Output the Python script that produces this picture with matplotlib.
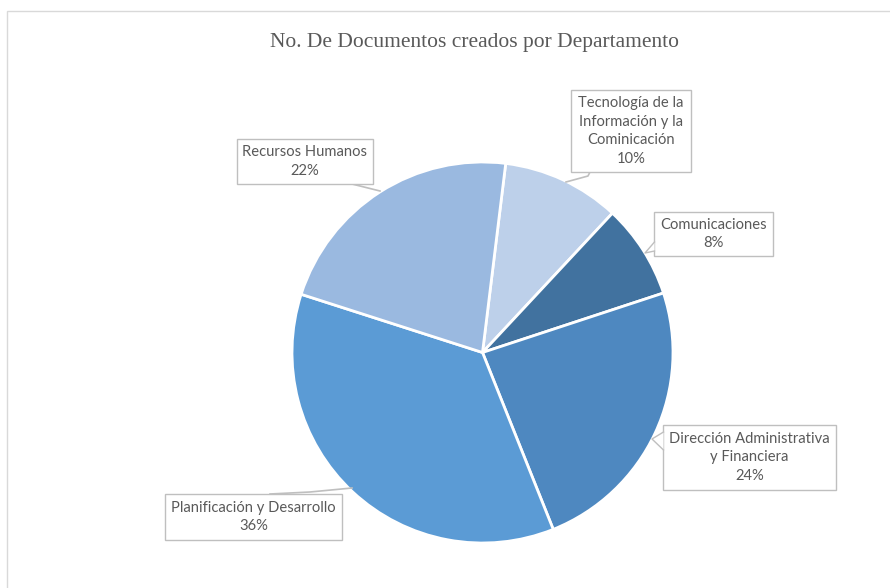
import numpy as np
import matplotlib.pyplot as plt
from matplotlib.patches import Rectangle, Polygon

# data, in the order the slices go clockwise from the top
departments = ['Tecnología de la\nInformación y la\nCominicación', 'Comunicaciones',
               'Dirección Administrativa\ny Financiera', 'Planificación y Desarrollo',
               'Recursos Humanos']
percent = [10, 8, 24, 36, 22]
colors = ['#BDD0EA', '#41729F', '#4E88C0', '#5B9BD5', '#9AB9E0']

W, H = 890, 588
gray_txt = '#595959'
gray_line = '#BFBFBF'

fig = plt.figure(figsize=(W / 100, H / 100), dpi=100)
ax = fig.add_axes([0, 0, 1, 1])
ax.set_xlim(0, W)
ax.set_ylim(0, H)
ax.axis('off')


def Y(y):
    # screen y (from top) -> axes y
    return H - y


# chart area border
ax.add_patch(Rectangle((7, Y(600)), 900, 589, fill=False, ec='#D9D9D9', lw=1))

ax.text(474, Y(42), 'No. De Documentos creados por Departamento', ha='center', va='center',
        family='Liberation Serif', fontsize=15.5, color=gray_txt)

ax.pie(percent, colors=colors, startangle=83, counterclock=False,
       center=(482.5, Y(352.5)), radius=190.5,
       wedgeprops=dict(edgecolor='white', linewidth=2))
ax.set_xlim(0, W)
ax.set_ylim(0, H)
ax.set_aspect('auto')

# label boxes: (x0, y0, x1, y1) in screen pixels
boxes = [(571, 90, 691, 172), (654, 212, 773, 256), (663, 425, 836, 490),
         (165, 494, 342, 540), (237, 139, 373, 184)]

for (x0, y0, x1, y1), name, p in zip(boxes, departments, percent):
    ax.add_patch(Rectangle((x0, Y(y1)), x1 - x0, y1 - y0, fc='white', ec=gray_line, lw=1, zorder=3))
    ax.text((x0 + x1) / 2, Y((y0 + y1) / 2), f'{name}\n{p}%', ha='center', va='center',
            family='Lato', fontsize=10.6, color=gray_txt, linespacing=1.45, zorder=4)

# leader lines
leaders = [
    [(590, 172), (588, 176), (566, 182)],
    [(352, 184), (380, 191)],
    [(270, 494), (310, 492), (352, 488)],
]
for pts in leaders:
    xs = [p[0] for p in pts]
    ys = [Y(p[1]) for p in pts]
    ax.plot(xs, ys, color=gray_line, lw=1.2, zorder=2)

# callout pointers on the left side of two boxes
pointers = [
    [(654.5, 242), (645, 253), (654.5, 251)],
    [(663.5, 432), (652, 439), (663.5, 450)],
]
for pts in pointers:
    poly = [(p[0], Y(p[1])) for p in pts]
    ax.add_patch(Polygon(poly, closed=True, fc='white', ec='none', zorder=5))
    ax.plot([p[0] for p in poly], [p[1] for p in poly], color=gray_line, lw=1, zorder=6)

plt.savefig('out.png', dpi=100)
